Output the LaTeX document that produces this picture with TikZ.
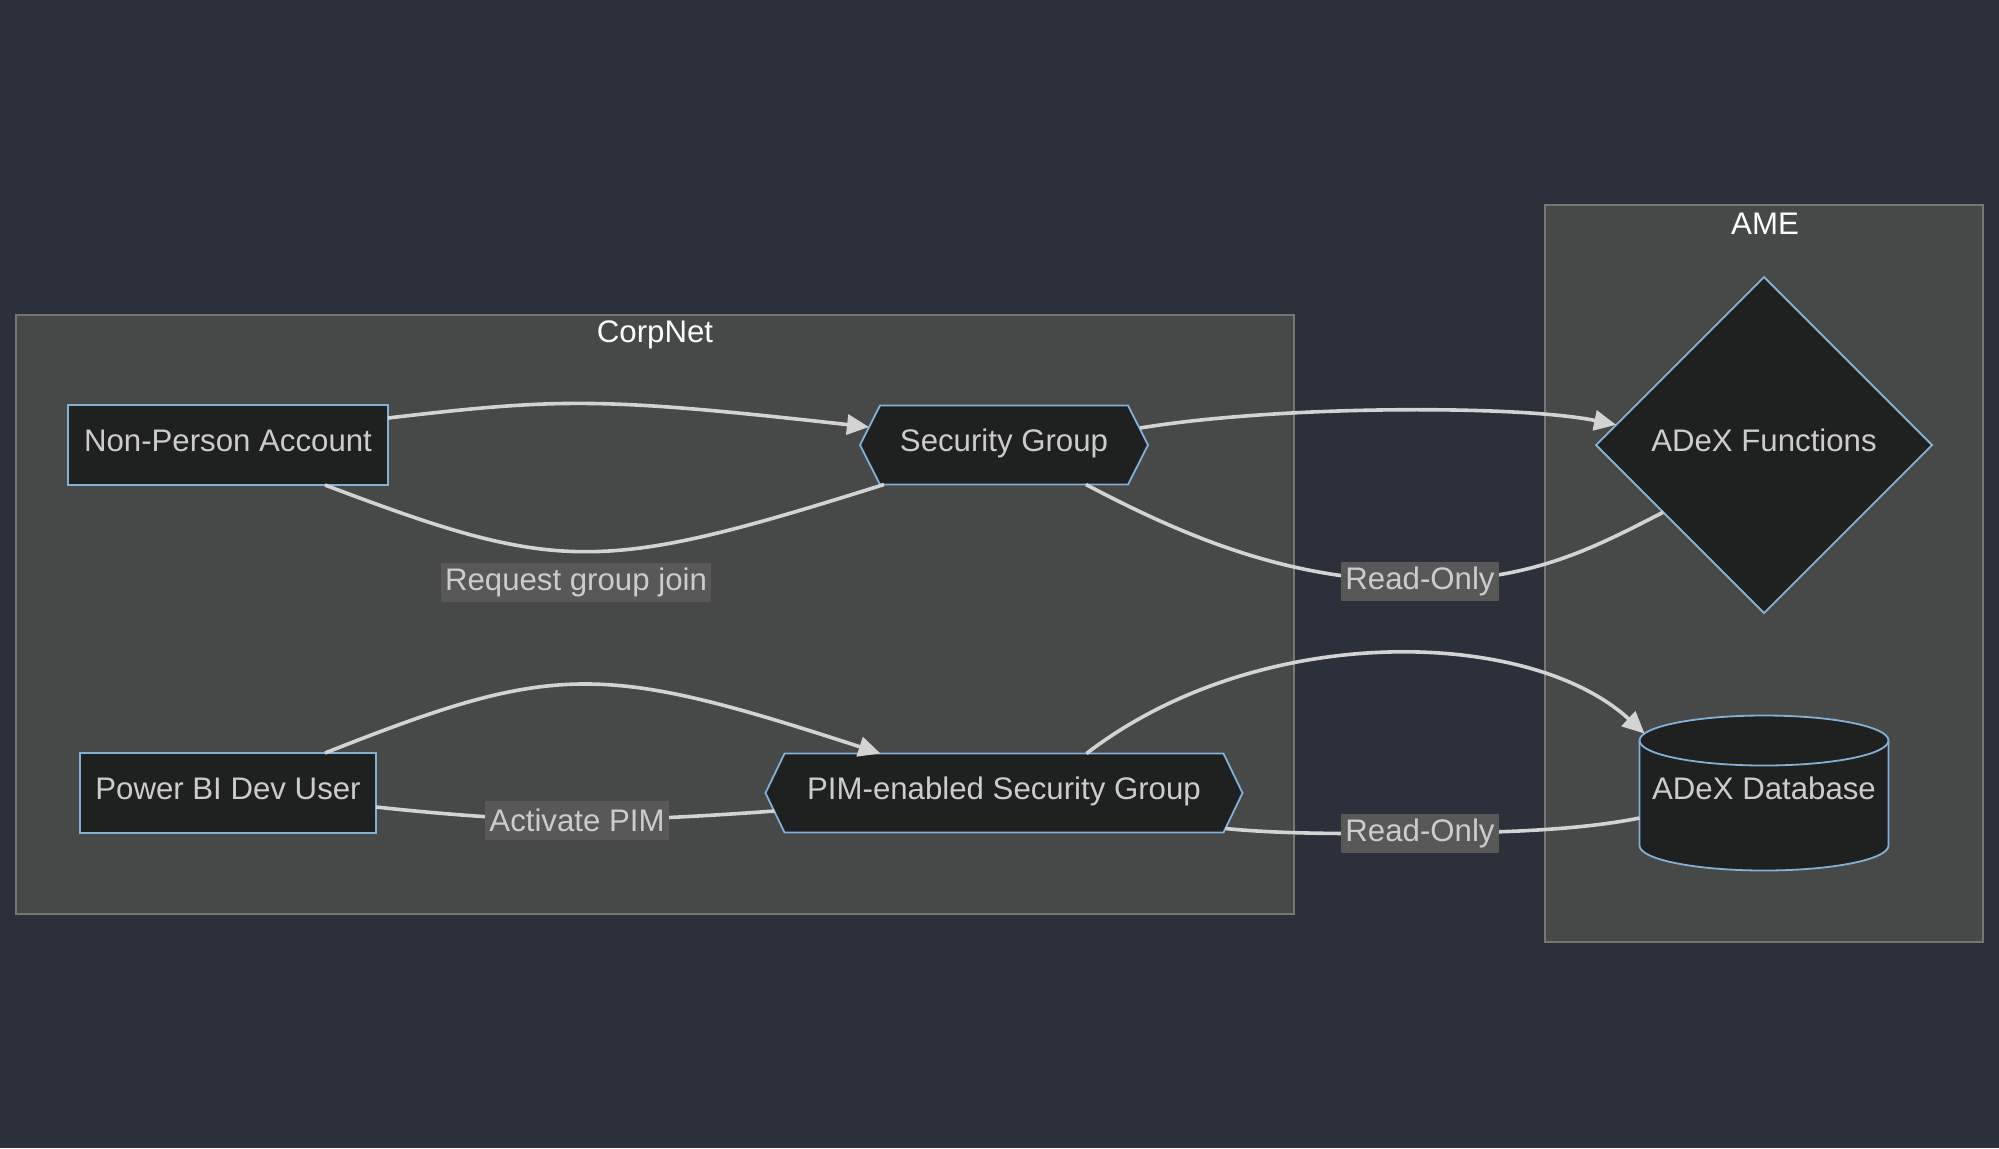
\documentclass[tikz,border=0pt]{standalone}
\usepackage{fontspec}
\setmainfont{Liberation Sans}
\usepackage{tikz}
\usetikzlibrary{calc,positioning,shapes.geometric,arrows.meta,backgrounds}

\definecolor{canvas}{HTML}{2B303B}
\definecolor{clusterfill}{HTML}{474949}
\definecolor{clusterline}{HTML}{757676}
\definecolor{nodefill}{HTML}{1F2020}
\definecolor{nodeline}{HTML}{81B1DB}
\definecolor{nodetext}{HTML}{CCCCCC}
\definecolor{edgeline}{HTML}{D3D3D3}
\definecolor{labelfill}{HTML}{585858}
\definecolor{titletext}{HTML}{F9FFFE}

\tikzstyle{block} = [rectangle, draw=nodeline, fill=nodefill, text=nodetext, line width=0.9pt, minimum height=40pt, outer sep=0pt, text height=11.5pt, text depth=5pt]
\tikzstyle{hexbox} = [rectangle, text=nodetext, minimum height=39.5pt, outer sep=0pt, text height=11.5pt, text depth=5pt]
\tikzstyle{hexline} = [draw=nodeline, fill=nodefill, line width=0.9pt]
\tikzstyle{decision} = [diamond, draw=nodeline, fill=nodefill, text=nodetext, line width=0.9pt, minimum width=168pt, minimum height=168pt, inner sep=0pt, outer sep=0pt, text height=11.5pt, text depth=5pt]
\tikzstyle{store} = [rectangle, text=nodetext, minimum width=124.5pt, minimum height=77.5pt, outer sep=0pt, text height=11.5pt, text depth=5pt]
\tikzstyle{cluster} = [draw=clusterline, fill=clusterfill, line width=0.9pt]
\tikzstyle{clustertitle} = [text=titletext]
\tikzstyle{line} = [draw=edgeline, line width=1.8pt, -{Triangle[length=11pt,width=10pt]}]
\tikzstyle{link} = [draw=edgeline, line width=1.8pt]
\tikzstyle{tag} = [fill=labelfill, text=nodetext, anchor=center, inner xsep=2pt, inner ysep=0pt, minimum height=19.5pt]

\begin{document}
\begin{tikzpicture}[x=0.5pt, y=-0.5pt, node distance=174pt, font=\fontsize{15.6}{18}\selectfont]
    \begin{scope}[on background layer]
        \fill [canvas] (0,0) rectangle (1999,1148);
        \path [cluster] (16,315) rectangle (1294,914);
        \path [cluster] (1545,205) rectangle (1983,942);
    \end{scope}
    \node [clustertitle] (corpnet) at (655,335) {CorpNet};
    \node [clustertitle] (ame) at (1765,224) {AME};

    \node [block, minimum width=160pt] (npa) at (228,445) {Non-Person Account};
    \node [block, minimum width=148pt, below of=npa] (pbi) {Power BI Dev User};
    \node [hexbox, minimum width=144pt, right of=npa, node distance=388pt] (sg) {Security Group};
    \node [hexbox, minimum width=238.5pt, below of=sg] (pim) {PIM-enabled Security Group};
    \node [decision, right of=sg, node distance=380pt] (adf) {ADeX Functions};
    \node [store, below of=adf] (db) {ADeX Database};

    \begin{scope}[on background layer]
        \path [hexline] (sg.west) -- ($(sg.north west)+(20,0)$) -- ($(sg.north east)+(-20,0)$) -- (sg.east) -- ($(sg.south east)+(-20,0)$) -- ($(sg.south west)+(20,0)$) -- cycle;
        \path [hexline] (pim.west) -- ($(pim.north west)+(19,0)$) -- ($(pim.north east)+(-19,0)$) -- (pim.east) -- ($(pim.south east)+(-19,0)$) -- ($(pim.south west)+(19,0)$) -- cycle;
        \path [hexline] ($(db.north west)+(0,25)$) -- ($(db.south west)+(0,-25)$) arc [start angle=180, end angle=360, x radius=62.25pt, y radius=12.5pt] -- ($(db.north east)+(0,25)$) arc [start angle=0, end angle=180, x radius=62.25pt, y radius=12.5pt] -- cycle;
        \draw [draw=nodeline, line width=0.9pt] ($(db.north west)+(0,25)$) arc [start angle=180, end angle=360, x radius=62.25pt, y radius=12.5pt];
    \end{scope}

    \path [line] ($(npa.east)+(0,-27)$) .. controls (560,398) and (600,397) .. ($(sg.west)+(9,-18)$);
    \path [link] ($(sg.south west)+(24,0)$) .. controls (600,574) and (560,574) .. ($(npa.south)+(97,0)$);
    \node [tag] (request) at (576,582) {Request group join};
    \path [line] ($(sg.east)+(-8,-17)$) .. controls (1280,405) and (1520,405) .. ($(adf.west)!0.12!(adf.north)$);
    \path [link] ($(sg.south east)+(-62,0)$) .. controls (1200,545) and (1300,581) .. (1420,581) node [tag] (readfn) {Read-Only} .. controls (1530,581) and (1590,550) .. ($(adf.west)!0.4!(adf.south)$);

    \path [line] ($(pbi.north)+(97,0)$) .. controls (555,662) and (600,662) .. ($(pim.north west)+(115,0)$);
    \path [link] ($(pbi.east)+(0,14)$) .. controls (450,815) and (520,820) .. (577,820) node [tag] (activate) {Activate PIM} .. controls (640,820) and (720,815) .. ($(pim.west)+(9,18)$);
    \path [line] ($(pim.north west)+(321,0)$) .. controls (1260,620) and (1530,628) .. ($(db.north west)+(5,18)$);
    \path [link] ($(pim.south east)+(-17,-4)$) .. controls (1280,834) and (1350,834) .. (1420,833) node [tag] (readdb) {Read-Only} .. controls (1500,833) and (1580,830) .. ($(db.west)+(0,25)$);
\end{tikzpicture}
\end{document}
